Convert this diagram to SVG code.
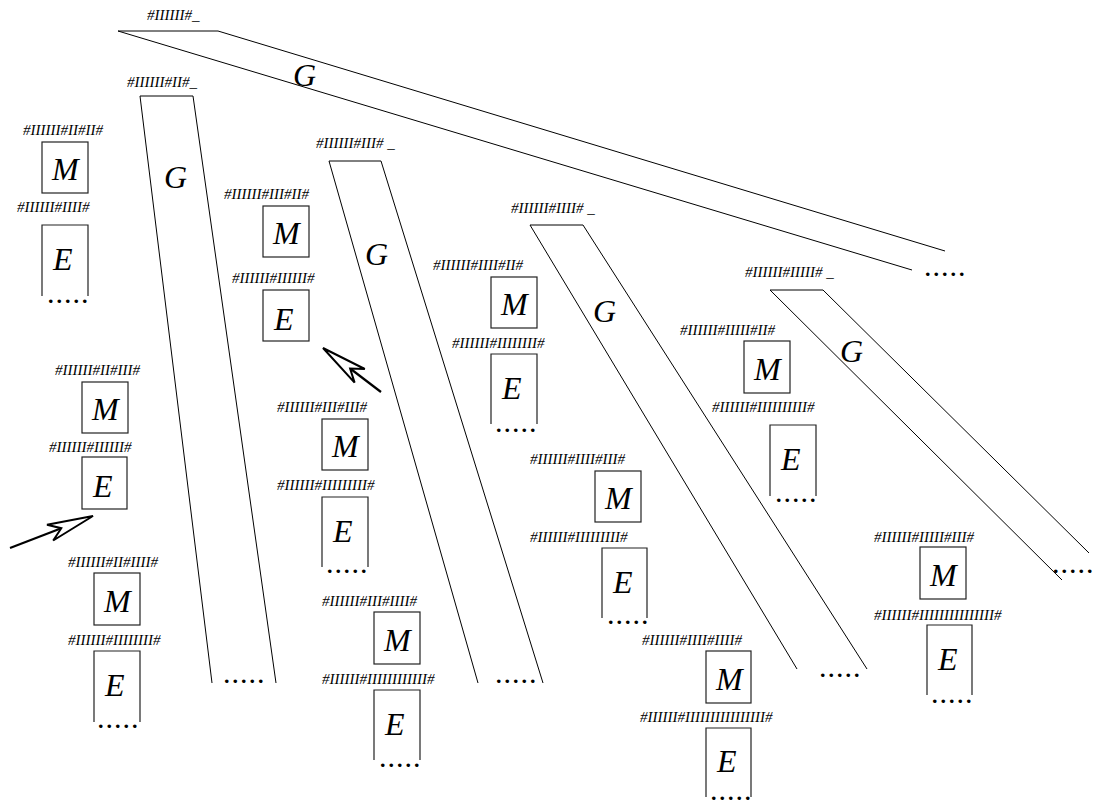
<svg xmlns="http://www.w3.org/2000/svg" width="1096" height="805" viewBox="0 0 1096 805">
<style>
.bg{fill:#fff}
.ln{fill:none;stroke:#000;stroke-width:1}
.bx{fill:none;stroke:#222;stroke-width:1.2}
.lb{font-family:"Liberation Serif","Times New Roman",serif;font-style:italic;font-size:15px;fill:#000}
.big{font-family:"Liberation Serif","Times New Roman",serif;font-style:italic;font-size:32px;fill:#000}
.dt{font-family:"Liberation Serif","Times New Roman",serif;font-size:22px;font-weight:bold;letter-spacing:3px;fill:#000}
.ar{fill:#fff;stroke:#000;stroke-width:2;stroke-linejoin:miter}
.sh{fill:none;stroke:#000;stroke-width:2.2}
</style>
<rect class="bg" x="0" y="0" width="1096" height="805"/>

<!-- G bands -->
<g id="band0">
<text class="lb" x="147" y="20">#IIIIII#_</text>
<polyline class="ln" points="912,270 118,31 218,31 945,251"/>
<text class="big" x="293" y="86">G</text>
<text class="dt" x="925" y="276">.....</text>
</g>
<g id="band1">
<text class="lb" x="127" y="87">#IIIIII#II#_</text>
<polyline class="ln" points="212,683 140,96 193,96 276,683"/>
<text class="big" x="164" y="188">G</text>
<text class="dt" x="224" y="683">.....</text>
</g>
<g id="band2">
<text class="lb" x="316" y="148">#IIIIII#III# _</text>
<polyline class="ln" points="478,683 329,161 381,161 543,683"/>
<text class="big" x="365" y="265">G</text>
<text class="dt" x="496" y="683">.....</text>
</g>
<g id="band3">
<text class="lb" x="511" y="213">#IIIIII#IIII# _</text>
<polyline class="ln" points="797,669 530,225 583,225 867,669"/>
<text class="big" x="593" y="322">G</text>
<text class="dt" x="820" y="677">.....</text>
</g>
<g id="band4">
<text class="lb" x="745" y="277">#IIIIII#IIIII# _</text>
<polyline class="ln" points="1062,580 770,290 823,290 1089,553"/>
<text class="big" x="840" y="362">G</text>
<text class="dt" x="1053" y="573">.....</text>
</g>

<!-- column 0 -->
<g id="m_2_2">
<text class="lb" x="23" y="135">#IIIIII#II#II#</text>
<rect class="bx" x="42" y="142" width="46" height="51"/>
<text class="big" x="52" y="180">M</text>
</g>
<g id="e_4">
<text class="lb" x="17" y="212">#IIIIII#IIII#</text>
<polyline class="bx" points="42,296 42,225 88,225 88,296"/>
<text class="big" x="53" y="270">E</text>
<text class="dt" x="48" y="303">.....</text>
</g>
<g id="m_2_3">
<text class="lb" x="55" y="375">#IIIIII#II#III#</text>
<rect class="bx" x="82" y="382" width="46" height="51"/>
<text class="big" x="92" y="420">M</text>
</g>
<g id="e_6a">
<text class="lb" x="49" y="452">#IIIIII#IIIIII#</text>
<rect class="bx" x="82" y="457" width="45" height="52"/>
<text class="big" x="93" y="497">E</text>
</g>
<g id="m_2_4">
<text class="lb" x="68" y="567">#IIIIII#II#IIII#</text>
<rect class="bx" x="94" y="573" width="46" height="52"/>
<text class="big" x="104" y="612">M</text>
</g>
<g id="e_8a">
<text class="lb" x="68" y="645">#IIIIII#IIIIIIII#</text>
<polyline class="bx" points="94,722 94,651 140,651 140,722"/>
<text class="big" x="105" y="696">E</text>
<text class="dt" x="98" y="728">.....</text>
</g>

<!-- column 1 -->
<g id="m_3_2">
<text class="lb" x="224" y="199">#IIIIII#III#II#</text>
<rect class="bx" x="263" y="206" width="46" height="51"/>
<text class="big" x="273" y="244">M</text>
</g>
<g id="e_6b">
<text class="lb" x="232" y="283">#IIIIII#IIIIII#</text>
<rect class="bx" x="263" y="290" width="46" height="51"/>
<text class="big" x="274" y="330">E</text>
</g>
<g id="m_3_3">
<text class="lb" x="277" y="412">#IIIIII#III#III#</text>
<rect class="bx" x="322" y="419" width="46" height="51"/>
<text class="big" x="332" y="457">M</text>
</g>
<g id="e_9a">
<text class="lb" x="277" y="490">#IIIIII#IIIIIIIII#</text>
<polyline class="bx" points="322,567 322,497 368,497 368,567"/>
<text class="big" x="333" y="542">E</text>
<text class="dt" x="327" y="573">.....</text>
</g>
<g id="m_3_4">
<text class="lb" x="322" y="606">#IIIIII#III#IIII#</text>
<rect class="bx" x="374" y="612" width="46" height="52"/>
<text class="big" x="384" y="651">M</text>
</g>
<g id="e_12a">
<text class="lb" x="322" y="684">#IIIIII#IIIIIIIIIIII#</text>
<polyline class="bx" points="374,760 374,690 420,690 420,760"/>
<text class="big" x="385" y="735">E</text>
<text class="dt" x="380" y="767">.....</text>
</g>

<!-- column 2 -->
<g id="m_4_2">
<text class="lb" x="433" y="270">#IIIIII#IIII#II#</text>
<rect class="bx" x="491" y="277" width="46" height="51"/>
<text class="big" x="501" y="315">M</text>
</g>
<g id="e_8b">
<text class="lb" x="452" y="348">#IIIIII#IIIIIIII#</text>
<polyline class="bx" points="491,424 491,354 537,354 537,424"/>
<text class="big" x="502" y="399">E</text>
<text class="dt" x="496" y="432">.....</text>
</g>
<g id="m_4_3">
<text class="lb" x="530" y="464">#IIIIII#IIII#III#</text>
<rect class="bx" x="595" y="471" width="46" height="51"/>
<text class="big" x="605" y="509">M</text>
</g>
<g id="e_9b">
<text class="lb" x="530" y="542">#IIIIII#IIIIIIIII#</text>
<polyline class="bx" points="602,618 602,548 647,548 647,618"/>
<text class="big" x="613" y="593">E</text>
<text class="dt" x="608" y="624">.....</text>
</g>
<g id="m_4_4">
<text class="lb" x="642" y="645">#IIIIII#IIII#IIII#</text>
<rect class="bx" x="706" y="651" width="45" height="52"/>
<text class="big" x="716" y="690">M</text>
</g>
<g id="e_16">
<text class="lb" x="640" y="722">#IIIIII#IIIIIIIIIIIIIIII#</text>
<polyline class="bx" points="706,797 706,728 751,728 751,797"/>
<text class="big" x="717" y="772">E</text>
<text class="dt" x="711" y="800">.....</text>
</g>

<!-- column 3 -->
<g id="m_5_2">
<text class="lb" x="680" y="335">#IIIIII#IIIII#II#</text>
<rect class="bx" x="744" y="341" width="46" height="52"/>
<text class="big" x="754" y="380">M</text>
</g>
<g id="e_10">
<text class="lb" x="712" y="412">#IIIIII#IIIIIIIIII#</text>
<polyline class="bx" points="770,496 770,425 816,425 816,496"/>
<text class="big" x="781" y="470">E</text>
<text class="dt" x="776" y="502">.....</text>
</g>
<g id="m_5_3">
<text class="lb" x="874" y="542">#IIIIII#IIIII#III#</text>
<rect class="bx" x="920" y="547" width="46" height="52"/>
<text class="big" x="930" y="586">M</text>
</g>
<g id="e_15">
<text class="lb" x="874" y="620">#IIIIII#IIIIIIIIIIIIIII#</text>
<polyline class="bx" points="927,695 927,625 972,625 972,695"/>
<text class="big" x="938" y="670">E</text>
<text class="dt" x="932" y="703">.....</text>
</g>

<!-- connectors (pointer arrows) -->
<g id="connectors">
<g id="arrow1">
<line class="sh" x1="10" y1="548" x2="61.3" y2="528.2"/>
<polygon class="ar" points="93,516 47,524.7 61.3,528.2 53.2,540.5"/>
</g>
<g id="arrow2">
<line class="sh" x1="381" y1="392" x2="350.1" y2="368.5"/>
<polygon class="ar" points="323,348 364.8,369 350.1,368.5 354.6,382.6"/>
</g>
</g>
</svg>
